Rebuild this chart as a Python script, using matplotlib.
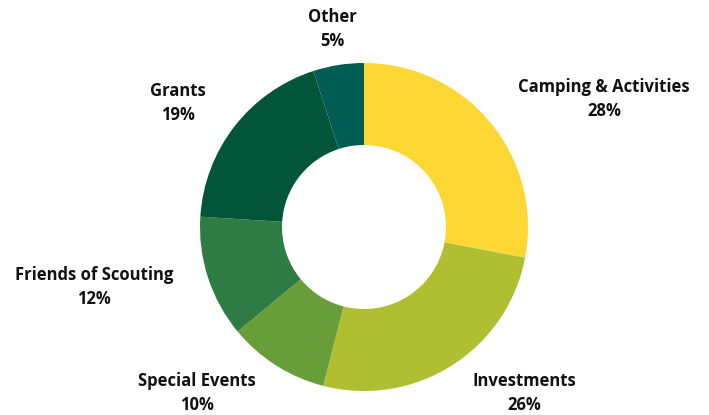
import matplotlib
matplotlib.use("Agg")
import matplotlib.pyplot as plt

# ---- Data ----
categories = ["Camping & Activities", "Investments", "Special Events",
              "Friends of Scouting", "Grants", "Other"]
shares = [28, 26, 10, 12, 19, 5]
colors = ["#FDD835", "#AFBF31", "#679E3A", "#2E7B44", "#03553A", "#015C53"]

# label anchor points in pixel space (x right, y down)
label_pos = [(604, 99), (524, 393), (197, 393), (94, 287), (178, 103), (332, 29)]

plt.rcParams['font.family'] = ['Open Sans', 'DejaVu Sans']

W, H = 709, 415
fig = plt.figure(figsize=(W / 100, H / 100), dpi=100)
ax = fig.add_axes([0, 0, 1, 1])

cx, cy, r = 364, 227, 164
ax.pie(shares, colors=colors, startangle=90, counterclock=False,
       center=(cx, H - cy), radius=r,
       wedgeprops=dict(width=r * 0.5, linewidth=0))

for name, val, (px, py) in zip(categories, shares, label_pos):
    ax.text(px, H - py, f"{name}\n{val}%", ha="center", va="center",
            fontsize=12, fontweight="bold", color="#111111", linespacing=1.4)

ax.set_xlim(0, W)
ax.set_ylim(0, H)
ax.set_aspect("equal")
ax.axis("off")

fig.savefig("out.png", dpi=100, facecolor="white")
